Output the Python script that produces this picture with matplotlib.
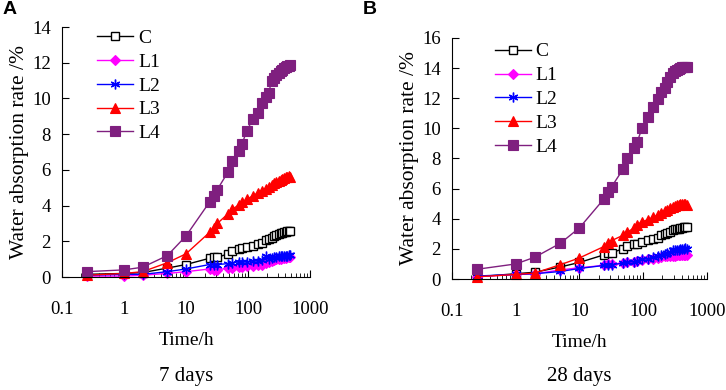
import matplotlib
matplotlib.use("Agg")
import matplotlib.pyplot as plt

# -----------------------------------------------------------------------
# Data
# -----------------------------------------------------------------------
hours = [0.25, 1, 2, 5, 10, 24, 28, 32, 48, 56, 72, 80, 96, 120, 144, 168,
         192, 216, 240, 264, 288, 312, 336, 360, 384, 408, 432, 456, 480]

series_names = ["C", "L1", "L2", "L3", "L4"]

# 7 days
c_7d = [0.15, 0.2, 0.25, 0.5, 0.7, 1.05, 1.1, 1.1, 1.3, 1.45, 1.55, 1.6, 1.7,
        1.75, 1.85, 1.9, 2.05, 2.15, 2.2, 2.3, 2.35, 2.4, 2.45, 2.45, 2.5,
        2.5, 2.55, 2.55, 2.55]
l1_7d = [0.05, 0.05, 0.1, 0.2, 0.3, 0.45, 0.4, 0.4, 0.5, 0.5, 0.55, 0.55, 0.6,
         0.6, 0.65, 0.7, 0.8, 0.85, 0.9, 0.95, 1.0, 1.0, 1.0, 1.05, 1.05,
         1.05, 1.1, 1.1, 1.1]
l2_7d = [0.1, 0.15, 0.15, 0.3, 0.45, 0.7, 0.7, 0.7, 0.75, 0.8, 0.85, 0.85,
         0.85, 0.9, 0.9, 0.95, 1.15, 1.0, 1.05, 1.1, 1.1, 1.15, 1.15, 1.15,
         1.2, 1.2, 1.2, 1.25, 1.25]
l3_7d = [0.1, 0.2, 0.3, 0.8, 1.3, 2.5, 2.75, 3.0, 3.55, 3.8, 4.05, 4.2, 4.35,
         4.55, 4.7, 4.8, 4.95, 5.05, 5.15, 5.25, 5.3, 5.4, 5.45, 5.5, 5.55,
         5.6, 5.6, 5.65, 5.6]
l4_7d = [0.3, 0.4, 0.55, 1.2, 2.3, 4.2, 4.55, 4.9, 5.9, 6.5, 7.05, 7.45, 8.2,
         8.85, 9.2, 9.75, 10.1, 10.3, 11.0, 11.15, 11.3, 11.45, 11.55, 11.6,
         11.7, 11.75, 11.8, 11.82, 11.85]

# 28 days
c_28d = [0.15, 0.35, 0.45, 0.8, 1.1, 1.6, 1.7, 1.75, 2.0, 2.2, 2.3, 2.35, 2.45,
         2.6, 2.65, 2.7, 2.9, 3.0, 3.05, 3.15, 3.25, 3.3, 3.35, 3.35, 3.4,
         3.4, 3.45, 3.45, 3.45]
l1_28d = [0.15, 0.3, 0.35, 0.6, 0.75, 0.9, 1.0, 1.0, 1.05, 1.1, 1.15, 1.2,
          1.25, 1.3, 1.35, 1.4, 1.45, 1.5, 1.5, 1.55, 1.55, 1.55, 1.6, 1.6,
          1.6, 1.6, 1.6, 1.6, 1.6]
l2_28d = [0.2, 0.3, 0.35, 0.5, 0.7, 0.9, 0.95, 0.95, 1.05, 1.1, 1.15, 1.2,
          1.3, 1.35, 1.45, 1.5, 1.6, 1.65, 1.7, 1.8, 1.9, 1.95, 1.95, 1.95,
          2.0, 2.0, 2.0, 2.05, 2.0]
l3_28d = [0.15, 0.3, 0.4, 0.95, 1.4, 2.15, 2.4, 2.55, 2.9, 3.1, 3.4, 3.6, 3.8,
          3.95, 4.1, 4.25, 4.4, 4.5, 4.6, 4.7, 4.8, 4.85, 4.9, 4.9, 4.95,
          4.95, 5.0, 4.95, 4.9]
l4_28d = [0.65, 1.0, 1.45, 2.37, 3.4, 5.3, 5.8, 6.13, 7.28, 8.0, 8.68, 9.1,
          10.0, 10.78, 11.4, 11.95, 12.4, 12.7, 13.1, 13.43, 13.65, 13.8,
          13.9, 13.95, 14.0, 14.05, 14.05, 14.05, 14.05]

# -----------------------------------------------------------------------
# Styles
# -----------------------------------------------------------------------
styles = {
    "C":  dict(color="black", marker="s", ms=5.5, mfc="white", mew=1.0),
    "L1": dict(color="#FF00FF", marker="D", ms=5, mfc="#FF00FF", mew=0.8),
    "L2": dict(color="#0000FF", marker=(6, 2, 0), ms=7, mfc="#0000FF", mew=1.0),
    "L3": dict(color="#FF0000", marker="^", ms=7, mfc="#FF0000", mew=0.8),
    "L4": dict(color="#7F1F7F", marker="s", ms=6.5, mfc="#7F1F7F", mew=0.8),
}

plt.rcParams["font.family"] = ["Liberation Serif", "DejaVu Serif"]
plt.rcParams["font.size"] = 14

fig = plt.figure(figsize=(7.26, 3.9), dpi=100)
ax_a = fig.add_axes([0.0854, 0.2897, 0.3416, 0.641])
ax_b = fig.add_axes([0.6226, 0.2846, 0.3512, 0.618])

panels = [
    (ax_a, [c_7d, l1_7d, l2_7d, l3_7d, l4_7d], 14, "7 days", (0.11, 1.022)),
    (ax_b, [c_28d, l1_28d, l2_28d, l3_28d, l4_28d], 16, "28 days", (0.137, 1.012)),
]

for ax, data, ymax, caption, leg_anchor in panels:
    for name, vals in zip(series_names, data):
        st = styles[name]
        ax.plot(hours, vals, color=st["color"], lw=1.0, marker=st["marker"],
                ms=st["ms"], mfc=st["mfc"], mec=st["color"], mew=st["mew"],
                label=name, clip_on=False)
    ax.set_xscale("log")
    ax.set_xlim(0.1, 1000)
    ax.set_ylim(0, ymax)
    ax.set_yticks(range(0, ymax + 1, 2))
    ax.set_xticks([0.1, 1, 10, 100, 1000])
    ax.set_xticklabels(["0.1", "1", "10", "100", "1000"])
    ax.spines["top"].set_visible(False)
    ax.spines["right"].set_visible(False)
    ax.tick_params(axis="x", which="major", direction="in", length=5,
                   pad=17, labelsize=13.5)
    ax.tick_params(axis="x", which="minor", direction="in", length=3)
    ax.tick_params(axis="y", direction="in", length=5, pad=8, labelsize=13.5)
    ax.set_xlabel("Time/h", fontsize=14, labelpad=10)
    ax.set_ylabel("Water absorption rate /%", fontsize=15.5, labelpad=2)
    ax.legend(loc="upper left", bbox_to_anchor=leg_anchor, frameon=False,
              handlelength=1.85, handletextpad=0.25, labelspacing=0.32,
              fontsize=14, borderaxespad=0)
    pos = ax.get_position()
    fig.text(pos.x0 + pos.width / 2, 0.035, caption, ha="center",
             va="center", fontsize=15)

fig.text(0.003, 0.975, "A", fontsize=14, fontweight="bold",
         family="Liberation Sans", va="center", ha="left")
fig.text(0.5, 0.975, "B", fontsize=14, fontweight="bold",
         family="Liberation Sans", va="center", ha="left")

fig.savefig("out.png", dpi=100)
